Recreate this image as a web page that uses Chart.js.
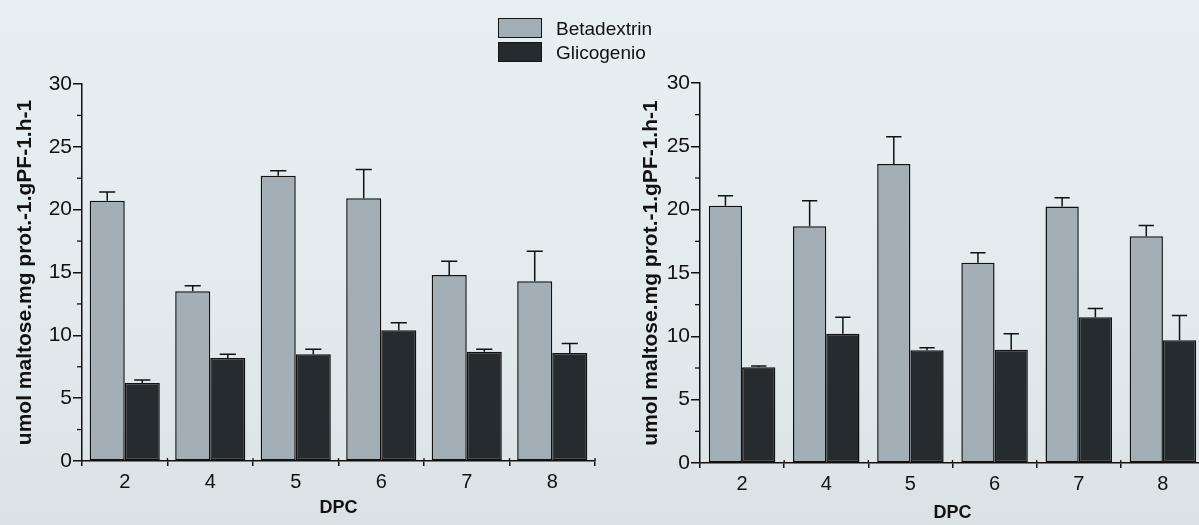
<!DOCTYPE html>
<html>
<head>
<meta charset="utf-8">
<script src="https://cdn.jsdelivr.net/npm/chart.js@4"></script>
<style>
  html, body { margin: 0; padding: 0; }
  body {
    width: 1199px; height: 525px; overflow: hidden; position: relative;
    background: linear-gradient(180deg, #e7eff3 0%, #e2eaee 60%, #dbe2e6 100%);
    font-family: "Liberation Sans", Arial, sans-serif;
  }
  #left { position: absolute; left: 0; top: 0; }
  #right { position: absolute; left: 600px; top: 0; }
  .key { position: absolute; left: 498px; width: 44px; height: 20px; border: 1.5px solid #151515; box-sizing: border-box; }
  .keytext { position: absolute; left: 556px; font-size: 19px; color: #111; line-height: 20px; }
</style>
</head>
<body>
<canvas id="left" width="600" height="525"></canvas>
<canvas id="right" width="610" height="525"></canvas>
<div class="key" style="top:18px; background:#a3aeb5"></div>
<div class="keytext" style="top:19px">Betadextrin</div>
<div class="key" style="top:42px; background:#262b2f"></div>
<div class="keytext" style="top:43px">Glicogenio</div>
<script>
const days = ["2", "4", "5", "6", "7", "8"];

// left panel
const leftBeta = [20.7, 13.5, 22.7, 20.9, 14.8, 14.3];
const leftBetaErr = [0.7, 0.45, 0.4, 2.3, 1.1, 2.4];
const leftGlic = [6.2, 8.2, 8.5, 10.4, 8.7, 8.6];
const leftGlicErr = [0.25, 0.3, 0.4, 0.6, 0.2, 0.75];

// right panel
const rightBeta = [20.3, 18.7, 23.6, 15.8, 20.25, 17.9];
const rightBetaErr = [0.8, 2.0, 2.15, 0.8, 0.7, 0.85];
const rightGlic = [7.55, 10.2, 8.9, 8.95, 11.5, 9.7];
const rightGlicErr = [0.1, 1.3, 0.2, 1.25, 0.7, 1.95];

const INK = "#111";
const FONT = "'Liberation Sans', Arial, sans-serif";

const errorBars = {
  id: "errorBars",
  afterDatasetsDraw(chart) {
    const { ctx } = chart;
    const y = chart.scales.y;
    ctx.save();
    ctx.strokeStyle = INK;
    ctx.lineWidth = 1.5;
    chart.data.datasets.forEach((ds, i) => {
      chart.getDatasetMeta(i).data.forEach((bar, j) => {
        const top = y.getPixelForValue(ds.data[j] + ds.errors[j]);
        const cap = bar.width * 0.23;
        ctx.beginPath();
        ctx.moveTo(bar.x, bar.y);
        ctx.lineTo(bar.x, top);
        ctx.moveTo(bar.x - cap, top);
        ctx.lineTo(bar.x + cap, top);
        ctx.stroke();
      });
    });
    ctx.restore();
  }
};

// short minor ticks on y, and the small upward part of the x boundary ticks
const axisMarks = {
  id: "axisMarks",
  afterDraw(chart) {
    const { ctx } = chart;
    const x = chart.scales.x;
    const y = chart.scales.y;
    ctx.save();
    ctx.strokeStyle = INK;
    ctx.lineWidth = 1.3;
    for (let v = 2.5; v < 30; v += 5) {
      const py = y.getPixelForValue(v);
      ctx.beginPath();
      ctx.moveTo(y.right - 5, py);
      ctx.lineTo(y.right, py);
      ctx.stroke();
    }
    const half = (x.getPixelForValue(1) - x.getPixelForValue(0)) / 2;
    for (let i = 0; i < days.length; i++) {
      const px = x.getPixelForValue(i) + half;
      ctx.beginPath();
      ctx.moveTo(px, x.top);
      ctx.lineTo(px, x.top - 3);
      ctx.stroke();
    }
    ctx.restore();
  }
};

function makeChart(id, beta, betaErr, glic, glicErr, g) {
  return new Chart(document.getElementById(id), {
    type: "bar",
    data: {
      labels: days,
      datasets: [
        { label: "Betadextrin", data: beta, errors: betaErr, backgroundColor: "#a3aeb5" },
        { label: "Glicogenio", data: glic, errors: glicErr, backgroundColor: "#262b2f" }
      ]
    },
    options: {
      responsive: false,
      animation: false,
      layout: { padding: { top: g.top, right: g.right, left: 0, bottom: 0 } },
      datasets: {
        bar: {
          borderColor: INK,
          borderWidth: 1.5,
          borderSkipped: false,
          barPercentage: 1.0,
          categoryPercentage: g.cat
        }
      },
      plugins: { legend: { display: false }, tooltip: { enabled: false } },
      scales: {
        x: {
          afterFit(scale) { scale.height = g.xh; },
          border: { color: INK, width: 1.5 },
          grid: { display: true, drawOnChartArea: false, offset: true, tickLength: 5, color: INK, lineWidth: 1.5 },
          ticks: { color: INK, padding: 4, font: { family: FONT, size: 20 } },
          title: { display: true, text: "DPC", color: INK, padding: { top: 0, bottom: g.titleB }, font: { family: FONT, size: 18, weight: "bold" } }
        },
        y: {
          min: 0,
          max: 30,
          afterFit(scale) { scale.width = g.yw; },
          border: { color: INK, width: 1.5 },
          grid: { display: true, drawOnChartArea: false, tickLength: 9, color: INK, lineWidth: 1.5 },
          ticks: { stepSize: 5, color: INK, padding: 1, font: { family: FONT, size: 21 } },
          title: {
            display: true,
            text: "umol maltose.mg prot.-1.gPF-1.h-1",
            color: INK,
            padding: { top: g.titleL, bottom: 0 },
            font: { family: FONT, size: 21, weight: "bold" }
          }
        }
      }
    },
    plugins: [errorBars, axisMarks]
  });
}

makeChart("left", leftBeta, leftBetaErr, leftGlic, leftGlicErr,
  { top: 84, right: 5, yw: 82, xh: 64, titleB: 6, titleL: 13, cat: 0.82 });
makeChart("right", rightBeta, rightBetaErr, rightGlic, rightGlicErr,
  { top: 83, right: 5, yw: 100, xh: 62, titleB: 1, titleL: 39, cat: 0.79 });
</script>
</body>
</html>
